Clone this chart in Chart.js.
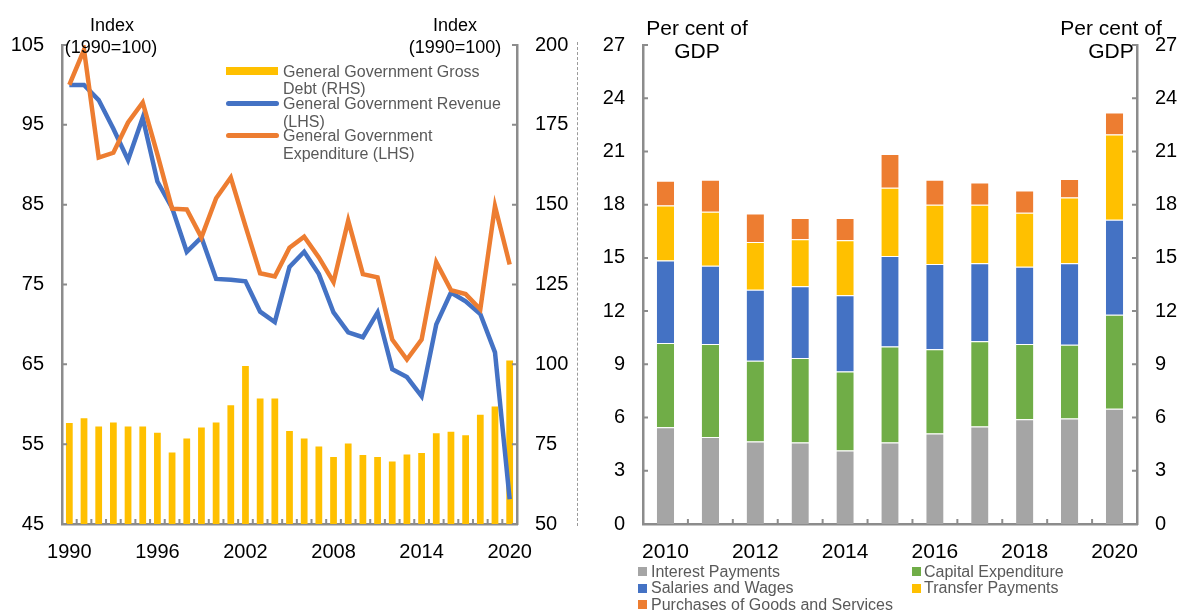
<!DOCTYPE html>
<html>
<head>
<meta charset="utf-8">
<script src="https://cdn.jsdelivr.net/npm/chart.js@4.4.1/dist/chart.umd.min.js"></script>
<style>
  html, body { margin: 0; padding: 0; background: #fff; }
  body { width: 1179px; height: 612px; position: relative; overflow: hidden; font-family: Arial, "Liberation Sans", sans-serif; }
  .box { position: absolute; top: 0; }
  .txt { position: absolute; white-space: nowrap; line-height: 1; }
  .ttl { font-size: 18px; color: #000; transform: translate(-50%, -50%); }
  .ttl2 { font-size: 21px; color: #000; transform: translate(-50%, -50%); }
  .leg { font-size: 16px; color: #595959; transform: translateY(-50%); }
  .sw { position: absolute; }
  #sep { position: absolute; left: 577px; top: 42px; height: 484px; border-left: 1px dashed #9a9a9a; }
</style>
</head>
<body>
<div class="box" style="left:0;width:578px;height:612px"><canvas id="left" width="578" height="612"></canvas></div>
<div class="box" style="left:580px;width:599px;height:612px"><canvas id="right" width="599" height="612"></canvas></div>
<div id="sep"></div>

<div class="txt ttl" style="left:112px;top:25px">Index</div>
<div class="txt ttl" style="left:111px;top:47px">(1990=100)</div>
<div class="txt ttl" style="left:455px;top:25px">Index</div>
<div class="txt ttl" style="left:455px;top:47px">(1990=100)</div>

<div class="sw" style="left:226px;top:67px;width:52px;height:8px;background:#FFC000"></div>
<div class="sw" style="left:226px;top:101px;width:53px;height:5px;border-radius:3px;background:#4472C4"></div>
<div class="sw" style="left:226px;top:133px;width:53px;height:5px;border-radius:3px;background:#ED7D31"></div>
<div class="txt leg" style="left:283px;top:72px">General Government Gross</div>
<div class="txt leg" style="left:283px;top:89px">Debt (RHS)</div>
<div class="txt leg" style="left:283px;top:104px">General Government Revenue</div>
<div class="txt leg" style="left:283px;top:122px">(LHS)</div>
<div class="txt leg" style="left:283px;top:136px">General Government</div>
<div class="txt leg" style="left:283px;top:154px">Expenditure (LHS)</div>

<div class="txt ttl2" style="left:697px;top:27px">Per cent of</div>
<div class="txt ttl2" style="left:697px;top:50px">GDP</div>
<div class="txt ttl2" style="left:1111px;top:27px">Per cent of</div>
<div class="txt ttl2" style="left:1111px;top:50px">GDP</div>

<div class="sw" style="left:638px;top:567px;width:9px;height:9px;background:#A5A5A5"></div>
<div class="sw" style="left:638px;top:584px;width:9px;height:9px;background:#4472C4"></div>
<div class="sw" style="left:638px;top:600px;width:9px;height:9px;background:#ED7D31"></div>
<div class="sw" style="left:912px;top:567px;width:9px;height:9px;background:#70AD47"></div>
<div class="sw" style="left:912px;top:584px;width:9px;height:9px;background:#FFC000"></div>
<div class="txt leg" style="left:651px;top:572px">Interest Payments</div>
<div class="txt leg" style="left:651px;top:588px">Salaries and Wages</div>
<div class="txt leg" style="left:651px;top:605px">Purchases of Goods and Services</div>
<div class="txt leg" style="left:924px;top:572px">Capital Expenditure</div>
<div class="txt leg" style="left:924px;top:588px">Transfer Payments</div>

<script>
// left panel
const years = ['1990','1991','1992','1993','1994','1995','1996','1997','1998','1999','2000',
  '2001','2002','2003','2004','2005','2006','2007','2008','2009','2010',
  '2011','2012','2013','2014','2015','2016','2017','2018','2019','2020'];
const revenue = [100, 100, 98.1, 94.5, 90.6, 95.9, 87.9, 84.6, 79.1, 80.9, 75.7,
  75.6, 75.4, 71.6, 70.3, 77.2, 79.1, 76.3, 71.5, 69.0, 68.4,
  71.5, 64.4, 63.4, 61.0, 70.0, 74.0, 72.9, 71.3, 66.5, 48.1];
const expenditure = [100, 104.4, 90.9, 91.5, 95.3, 97.8, 91.3, 84.5, 84.4, 80.9, 85.8,
  88.4, 82.3, 76.4, 76.0, 79.6, 81.0, 78.4, 75.3, 83.0, 76.3,
  75.9, 68.1, 65.6, 68.1, 77.8, 74.3, 73.8, 71.9, 84.8, 77.5];
const grossDebt = [81.6, 83.1, 80.5, 81.8, 80.5, 80.5, 78.6, 72.4, 76.8, 80.2, 81.8,
  87.2, 99.5, 89.3, 89.3, 79.1, 76.8, 74.3, 71.0, 75.2, 71.6,
  71.0, 69.6, 71.8, 72.2, 78.4, 78.9, 77.8, 84.2, 86.8, 101.2];
const lhsRange = [45, 105, 10];
const rhsRange = [50, 200, 25];

// right panel
const spendYears = ['2010','2011','2012','2013','2014','2015','2016','2017','2018','2019','2020'];
const interestPay = [5.45, 4.9, 4.65, 4.6, 4.15, 4.6, 5.1, 5.5, 5.9, 5.95, 6.5];
const capitalExp = [4.75, 5.25, 4.55, 4.75, 4.45, 5.4, 4.75, 4.8, 4.25, 4.15, 5.3];
const salaries = [4.65, 4.4, 4.0, 4.05, 4.3, 5.1, 4.8, 4.4, 4.35, 4.6, 5.35];
const transfers = [3.1, 3.05, 2.7, 2.65, 3.1, 3.85, 3.35, 3.3, 3.05, 3.7, 4.8];
const purchases = [1.4, 1.8, 1.6, 1.2, 1.25, 1.9, 1.4, 1.25, 1.25, 1.05, 1.25];
const pctRange = [0, 27, 3];

const AXIS = '#8c8c8c';
Chart.defaults.font.family = 'Arial, "Liberation Sans", sans-serif';
Chart.defaults.color = '#000';
Chart.defaults.animation = false;

// small tick marks pointing into the plot, like the excel original
const innerTicks = {
  id: 'innerTicks',
  afterDraw(chart) {
    const ctx = chart.ctx, len = 5;
    ctx.save();
    ctx.strokeStyle = AXIS;
    ctx.lineWidth = 2;
    ctx.beginPath();
    Object.values(chart.scales).forEach(sc => {
      if (sc.axis === 'x') {
        const n = sc.getLabels().length;
        for (let i = 0; i <= n; i++) {
          let px;
          if (i === 0) px = sc.left;
          else if (i === n) px = sc.right;
          else px = (sc.getPixelForValue(i - 1) + sc.getPixelForValue(i)) / 2;
          ctx.moveTo(px, sc.top);
          ctx.lineTo(px, sc.top - len);
        }
      } else {
        const left = sc.position === 'left';
        const x0 = left ? sc.right : sc.left;
        sc.ticks.forEach(t => {
          const py = sc.getPixelForValue(t.value);
          ctx.moveTo(x0, py);
          ctx.lineTo(left ? x0 + len : x0 - len, py);
        });
      }
    });
    ctx.stroke();
    ctx.restore();
  }
};

function yAxis(range, pos, width, size) {
  return {
    position: pos, min: range[0], max: range[1],
    afterFit: s => { s.width = width; },
    grid: { display: false, drawTicks: false },
    border: { display: true, color: AXIS, width: 2.5 },
    ticks: { stepSize: range[2], padding: 18, font: { size: size } }
  };
}

function xAxis(every, size) {
  return {
    offset: true,
    afterFit: s => { s.height = 88; },
    grid: { display: false, drawTicks: false, offset: true },
    border: { display: true, color: AXIS, width: 2.5 },
    ticks: {
      autoSkip: false, maxRotation: 0, padding: 16, font: { size: size },
      callback: function (v, i) { return i % every === 0 ? this.getLabelForValue(v) : ''; }
    }
  };
}

new Chart(document.getElementById('left'), {
  data: {
    labels: years,
    datasets: [
      { type: 'line', label: 'General Government Expenditure (LHS)', data: expenditure, yAxisID: 'y',
        borderColor: '#ED7D31', borderWidth: 4.5, pointRadius: 0, tension: 0, order: 1 },
      { type: 'line', label: 'General Government Revenue (LHS)', data: revenue, yAxisID: 'y',
        borderColor: '#4472C4', borderWidth: 4.5, pointRadius: 0, tension: 0, order: 2 },
      { type: 'bar', label: 'General Government Gross Debt (RHS)', data: grossDebt, yAxisID: 'y1',
        backgroundColor: '#FFC000', barPercentage: 0.46, categoryPercentage: 1, order: 3 }
    ]
  },
  options: {
    responsive: false,
    layout: { padding: { top: 45, left: 0, right: 0, bottom: 0 } },
    plugins: { legend: { display: false }, tooltip: { enabled: false } },
    scales: {
      x: xAxis(6, 20),
      y: yAxis(lhsRange, 'left', 62, 20),
      y1: yAxis(rhsRange, 'right', 61, 20)
    }
  },
  plugins: [innerTicks]
});

const stackDefs = [
  ['Interest Payments', interestPay, '#A5A5A5'],
  ['Capital Expenditure', capitalExp, '#70AD47'],
  ['Salaries and Wages', salaries, '#4472C4'],
  ['Transfer Payments', transfers, '#FFC000'],
  ['Purchases of Goods and Services', purchases, '#ED7D31']
];

new Chart(document.getElementById('right'), {
  type: 'bar',
  data: {
    labels: spendYears,
    datasets: stackDefs.map(d => ({
      label: d[0], data: d[1], backgroundColor: d[2],
      borderColor: 'rgba(255,255,255,0.7)', borderWidth: { top: 1 }, borderSkipped: false,
      barPercentage: 0.385, categoryPercentage: 1, yAxisID: 'y'
    }))
  },
  options: {
    responsive: false,
    layout: { padding: { top: 45, left: 0, right: 0, bottom: 0 } },
    plugins: { legend: { display: false }, tooltip: { enabled: false } },
    scales: {
      x: Object.assign(xAxis(2, 21), { stacked: true }),
      y: Object.assign(yAxis(pctRange, 'left', 63, 20), { stacked: true }),
      y2: yAxis(pctRange, 'right', 42, 20)
    }
  },
  plugins: [innerTicks]
});
</script>
</body>
</html>
